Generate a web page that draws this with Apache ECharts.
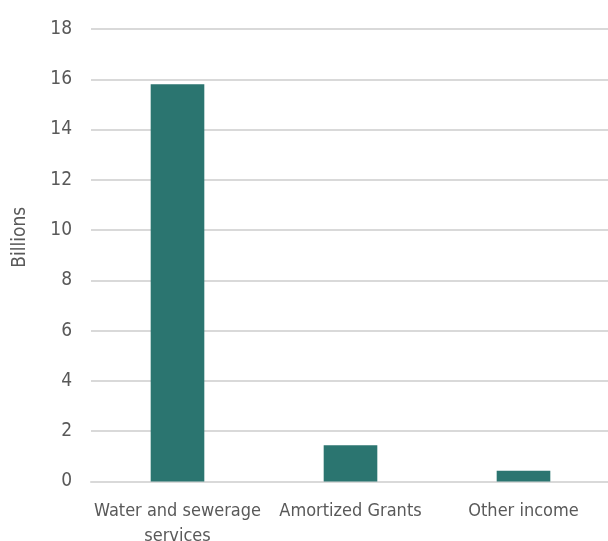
<!DOCTYPE html>
<html>
<head>
<meta charset="utf-8">
<script src="https://cdn.jsdelivr.net/npm/echarts@6/dist/echarts.min.js"></script>
<style>
  html, body { margin: 0; padding: 0; background: #fff; }
  #chart { width: 608px; height: 541px; }
</style>
</head>
<body>
<div id="chart"></div>
<script>
// Revenue sources, in billions
const categories = ['Water and sewerage\nservices', 'Amortized Grants', 'Other income'];
const revenue = [15.8, 1.44, 0.43];
const yTicks = { min: 0, max: 18, interval: 2 };

const FONT = '"DejaVu Sans Condensed", "Liberation Sans Narrow", sans-serif';
const TEXT = '#595959';
const GRID = '#d9d9d9';

const chart = echarts.init(document.getElementById('chart'), null, { renderer: 'canvas' });
chart.setOption({
  animation: false,
  grid: { left: 91, right: -2, top: 29, bottom: 59.5, containLabel: false, outerBoundsMode: 'none' },
  xAxis: {
    type: 'category',
    data: categories,
    axisLine: { show: true, lineStyle: { color: GRID, width: 2 } },
    axisTick: { show: false },
    axisLabel: { interval: 0, color: TEXT, fontFamily: FONT, fontSize: 18, lineHeight: 25, margin: 17 }
  },
  yAxis: {
    type: 'value',
    min: yTicks.min, max: yTicks.max, interval: yTicks.interval,
    name: 'Billions',
    nameLocation: 'middle',
    nameRotate: 90,
    nameGap: 61,
    // the axis title sits a little above the plot's middle
    nameTextStyle: { color: TEXT, fontFamily: FONT, fontSize: 19, padding: [0, 0, 0, 36] },
    axisLine: { show: false },
    axisTick: { show: false },
    axisLabel: { color: TEXT, fontFamily: FONT, fontSize: 19, margin: 19 },
    splitLine: { lineStyle: { color: GRID, width: 2 } }
  },
  series: [{
    type: 'bar',
    data: revenue,
    barWidth: '31%',
    itemStyle: { color: '#2b7570' }
  }]
});
</script>
</body>
</html>
